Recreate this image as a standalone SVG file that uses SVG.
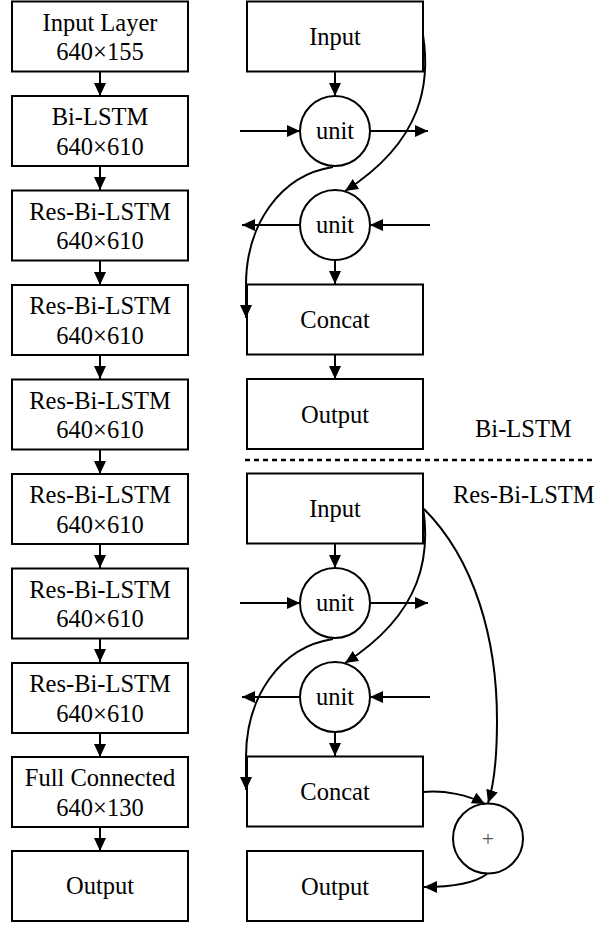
<svg xmlns="http://www.w3.org/2000/svg" width="595" height="929" viewBox="0 0 595 929">
<defs>
<marker id="ah" markerUnits="userSpaceOnUse" markerWidth="15" markerHeight="13" refX="13" refY="6" orient="auto">
<path d="M0,0 L13,6 L0,12 z" fill="#000"/>
</marker>
<style>
.box{fill:#fff;stroke:#000;stroke-width:2}
.circ{fill:#fff;stroke:#000;stroke-width:2}
.t{font-family:"Liberation Serif","Times New Roman",serif;font-size:24.5px;fill:#000;text-anchor:middle}
.lbl{font-family:"Liberation Serif","Times New Roman",serif;font-size:24.5px;fill:#000}
.c{fill:none;stroke:#000;stroke-width:2;marker-end:url(#ah)}
</style>
</defs>
<rect width="595" height="929" fill="#fff"/>

<!-- left column nodes -->
<g id="l1"><rect class="box" x="12" y="1.5" width="176" height="70"/><text class="t" x="100" y="30.5">Input Layer</text><text class="t" x="100" y="60">640×155</text></g>
<g id="l2"><rect class="box" x="12" y="96" width="176" height="70"/><text class="t" x="100" y="125">Bi-LSTM</text><text class="t" x="100" y="154.5">640×610</text></g>
<g id="l3"><rect class="box" x="12" y="190.5" width="176" height="70"/><text class="t" x="100" y="219.5">Res-Bi-LSTM</text><text class="t" x="100" y="249">640×610</text></g>
<g id="l4"><rect class="box" x="12" y="285" width="176" height="70"/><text class="t" x="100" y="314">Res-Bi-LSTM</text><text class="t" x="100" y="343.5">640×610</text></g>
<g id="l5"><rect class="box" x="12" y="379.5" width="176" height="70"/><text class="t" x="100" y="408.5">Res-Bi-LSTM</text><text class="t" x="100" y="438">640×610</text></g>
<g id="l6"><rect class="box" x="12" y="474" width="176" height="70"/><text class="t" x="100" y="503">Res-Bi-LSTM</text><text class="t" x="100" y="532.5">640×610</text></g>
<g id="l7"><rect class="box" x="12" y="568.5" width="176" height="70"/><text class="t" x="100" y="597.5">Res-Bi-LSTM</text><text class="t" x="100" y="627">640×610</text></g>
<g id="l8"><rect class="box" x="12" y="663" width="176" height="70"/><text class="t" x="100" y="692">Res-Bi-LSTM</text><text class="t" x="100" y="721.5">640×610</text></g>
<g id="l9"><rect class="box" x="12" y="757" width="176" height="70"/><text class="t" x="100" y="786">Full Connected</text><text class="t" x="100" y="815.5">640×130</text></g>
<g id="l10"><rect class="box" x="12" y="851" width="176" height="70"/><text class="t" x="100" y="894">Output</text></g>

<!-- Bi-LSTM detail -->
<g id="b_input"><rect class="box" x="247" y="1.5" width="176" height="70"/><text class="t" x="335" y="45">Input</text></g>
<g id="b_unit1"><circle class="circ" cx="335" cy="131" r="35"/><text class="t" x="335" y="138.5">unit</text></g>
<g id="b_unit2"><circle class="circ" cx="335" cy="225" r="35"/><text class="t" x="335" y="232.5">unit</text></g>
<g id="b_concat"><rect class="box" x="247" y="284.5" width="176" height="70"/><text class="t" x="335" y="328">Concat</text></g>
<g id="b_output"><rect class="box" x="247" y="379" width="176" height="70"/><text class="t" x="335" y="423">Output</text></g>
<g id="label_bilstm"><text class="lbl" x="475" y="437">Bi-LSTM</text></g>

<!-- Res-Bi-LSTM detail -->
<g id="r_input"><rect class="box" x="247" y="473.5" width="176" height="70"/><text class="t" x="335" y="517">Input</text></g>
<g id="r_unit1"><circle class="circ" cx="335" cy="603" r="35"/><text class="t" x="335" y="610.5">unit</text></g>
<g id="r_unit2"><circle class="circ" cx="335" cy="697" r="35"/><text class="t" x="335" y="704.5">unit</text></g>
<g id="r_concat"><rect class="box" x="247" y="756.5" width="176" height="70"/><text class="t" x="335" y="800">Concat</text></g>
<g id="r_output"><rect class="box" x="247" y="851" width="176" height="70"/><text class="t" x="335" y="895">Output</text></g>
<g id="r_plus"><circle class="circ" cx="488" cy="838.5" r="35"/><text x="488" y="846" font-family="Liberation Serif, serif" font-size="22" fill="#555" text-anchor="middle">+</text></g>
<g id="label_res"><text class="lbl" x="453" y="503">Res-Bi-LSTM</text></g>

<!-- connectors -->
<g id="connectors">
<line class="c" x1="100" y1="72" x2="100" y2="96"/>
<line class="c" x1="100" y1="166" x2="100" y2="190"/>
<line class="c" x1="100" y1="261" x2="100" y2="285"/>
<line class="c" x1="100" y1="355" x2="100" y2="379"/>
<line class="c" x1="100" y1="450" x2="100" y2="474"/>
<line class="c" x1="100" y1="544" x2="100" y2="568"/>
<line class="c" x1="100" y1="638" x2="100" y2="662"/>
<line class="c" x1="100" y1="733" x2="100" y2="757"/>
<line class="c" x1="100" y1="827" x2="100" y2="851"/>

<line class="c" x1="335" y1="72" x2="335" y2="96"/>
<line class="c" x1="240" y1="131" x2="300" y2="131"/>
<line class="c" x1="370" y1="131" x2="428" y2="131"/>
<line class="c" x1="300" y1="225" x2="242" y2="225"/>
<line class="c" x1="430" y1="225" x2="370" y2="225"/>
<line class="c" x1="335" y1="260" x2="335" y2="284"/>
<line class="c" x1="335" y1="355" x2="335" y2="379"/>
<path class="c" d="M423,35 C430,80 425,140 345,191"/>
<path class="c" d="M333,167 C280,175 246,225 246,285 L246,318"/>

<line x1="245" y1="460" x2="595" y2="460" stroke="#000" stroke-width="2.5" stroke-dasharray="5 4"/>

<line class="c" x1="335" y1="544" x2="335" y2="568"/>
<line class="c" x1="240" y1="603" x2="300" y2="603"/>
<line class="c" x1="370" y1="603" x2="428" y2="603"/>
<line class="c" x1="300" y1="697" x2="242" y2="697"/>
<line class="c" x1="430" y1="697" x2="370" y2="697"/>
<line class="c" x1="335" y1="732" x2="335" y2="756"/>
<path class="c" d="M423,507 C430,552 425,612 345,663"/>
<path class="c" d="M333,639 C280,647 246,697 246,757 L246,790"/>
<path class="c" d="M424,509 C475,560 497,640 497,720 C497,760 494,785 488,803"/>
<path class="c" d="M423,792 C445,790 468,795 485,804"/>
<path class="c" d="M487,874 C475,883 455,887 424,887"/>
</g>
</svg>
